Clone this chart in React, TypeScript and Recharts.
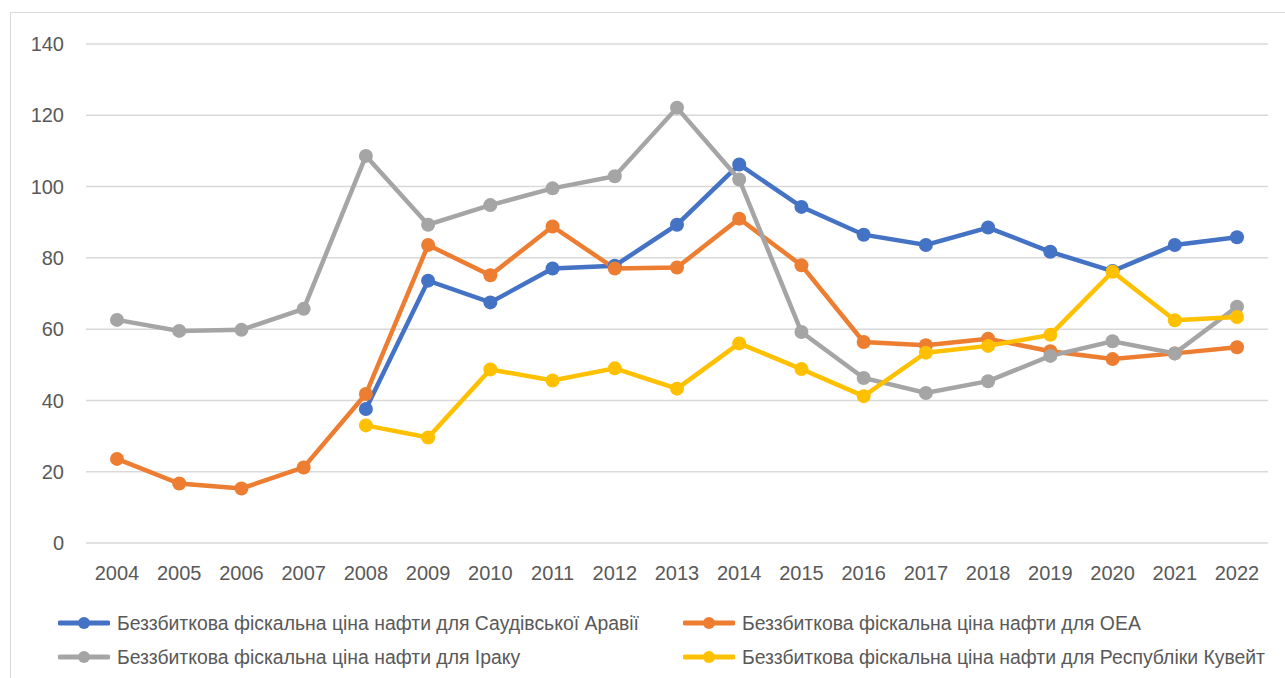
import React from 'react';
import { LineChart, Line, XAxis, YAxis, CartesianGrid, Legend } from 'recharts';

const years = ['2004', '2005', '2006', '2007', '2008', '2009', '2010', '2011', '2012', '2013', '2014', '2015', '2016', '2017', '2018', '2019', '2020', '2021', '2022'];

const saudi = [null, null, null, null, 37.6, 73.6, 67.5, 77, 77.8, 89.3, 106.2, 94.3, 86.5, 83.6, 88.5, 81.7, 76.3, 83.6, 85.8];
const uae = [23.6, 16.7, 15.3, 21.2, 41.8, 83.6, 75.1, 88.8, 77, 77.3, 91, 77.9, 56.4, 55.5, 57.3, 53.8, 51.6, 53.2, 54.9];
const iraq = [62.6, 59.5, 59.8, 65.7, 108.6, 89.3, 94.8, 99.5, 102.9, 122.1, 102, 59.2, 46.3, 42.1, 45.4, 52.5, 56.6, 53.2, 66.3];
const kuwait = [null, null, null, null, 33, 29.6, 48.7, 45.6, 49, 43.3, 56, 48.8, 41.2, 53.4, 55.3, 58.4, 76.1, 62.5, 63.4];

const yTicks = [0, 20, 40, 60, 80, 100, 120, 140];

const series = [
  { key: 'saudi', name: 'Беззбиткова фіскальна ціна нафти для Саудівської Аравії', color: '#4472C4' },
  { key: 'uae', name: 'Беззбиткова фіскальна ціна нафти для ОЕА', color: '#ED7D31' },
  { key: 'iraq', name: 'Беззбиткова фіскальна ціна нафти для Іраку', color: '#A5A5A5' },
  { key: 'kuwait', name: 'Беззбиткова фіскальна ціна нафти для Республіки Кувейт', color: '#FFC000' },
];

const data = years.map((year, i) => ({
  year,
  saudi: saudi[i],
  uae: uae[i],
  iraq: iraq[i],
  kuwait: kuwait[i],
}));

const textColor = '#595959';
const font = '"Liberation Sans", Arial, sans-serif';

const LegendIcon = ({ color }: { color: string }) => (
  <svg width={52} height={14} style={{ flexShrink: 0 }}>
    <line x1={2} y1={7} x2={50} y2={7} stroke={color} strokeWidth={5} strokeLinecap="round" />
    <circle cx={26} cy={7} r={6} fill={color} />
  </svg>
);

const renderLegend = () => (
  <div
    style={{
      display: 'grid',
      gridTemplateColumns: '625px 560px',
      rowGap: 12,
      paddingLeft: 32,
      paddingTop: 19,
      fontFamily: font,
      fontSize: 19.4,
      color: textColor,
    }}
  >
    {series.map((s) => (
      <div key={s.key} style={{ display: 'flex', alignItems: 'center', gap: 7, height: 22, whiteSpace: 'nowrap' }}>
        <LegendIcon color={s.color} />
        <span>{s.name}</span>
      </div>
    ))}
  </div>
);

export default function App() {
  return (
    <div
      style={{
        position: 'absolute',
        left: 10,
        top: 12,
        width: 1280,
        height: 672,
        border: '1px solid #d9d9d9',
        background: '#fff',
      }}
    >
      <LineChart width={1275} height={666} data={data} margin={{ top: 31, right: 18, left: 15, bottom: 0 }}>
        <CartesianGrid vertical={false} stroke="#d9d9d9" strokeWidth={1.5} />
        <XAxis
          dataKey="year"
          padding={{ left: 31, right: 31 }}
          axisLine={false}
          tickLine={false}
          tickMargin={17}
          height={50}
          interval={0}
          tick={{ fill: textColor, fontSize: 20, fontFamily: font }}
        />
        <YAxis
          domain={[0, 140]}
          ticks={yTicks}
          axisLine={false}
          tickLine={false}
          tickMargin={16}
          width={60}
          tick={{ fill: textColor, fontSize: 20, fontFamily: font }}
        />
        <Legend verticalAlign="bottom" height={86} content={renderLegend} />
        {series.map((s) => (
          <Line
            key={s.key}
            type="linear"
            dataKey={s.key}
            name={s.name}
            stroke={s.color}
            strokeWidth={4.5}
            dot={{ r: 7, fill: s.color, stroke: s.color, strokeWidth: 0 }}
            activeDot={false}
            isAnimationActive={false}
          />
        ))}
      </LineChart>
    </div>
  );
}
